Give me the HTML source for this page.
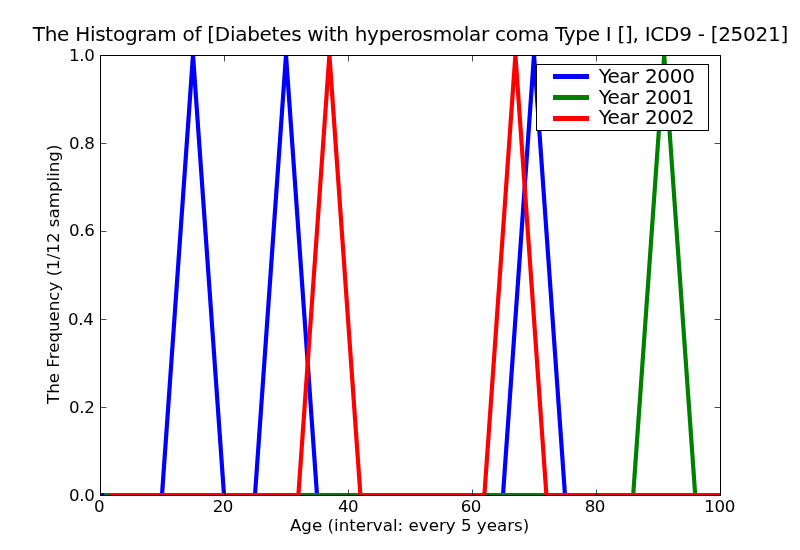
<!DOCTYPE html>
<html><head><meta charset="utf-8"><title>Histogram</title>
<style>html,body{margin:0;padding:0;background:#fff;overflow:hidden}svg{display:block;will-change:transform}text{font-family:'DejaVu Sans','Liberation Sans',sans-serif;fill:#000}</style>
</head><body>
<svg width="800" height="550" viewBox="0 0 800 550">
<rect x="0" y="0" width="800" height="550" fill="#fff"/>
<defs><clipPath id="ax"><rect x="100" y="55" width="621" height="441"/></clipPath></defs>
<g clip-path="url(#ax)">
<polyline points="100.00,495.00 131.00,495.00 162.00,495.00 193.00,55.00 224.00,495.00 255.00,495.00 286.00,55.00 317.00,495.00 348.00,495.00 379.00,495.00 410.00,495.00 441.00,495.00 472.00,495.00 503.00,495.00 534.00,55.00 565.00,495.00 596.00,495.00 627.00,495.00 658.00,495.00 689.00,495.00 720.00,495.00" fill="none" stroke="#0000ff" stroke-width="4.17" stroke-linejoin="miter" stroke-miterlimit="100" stroke-linecap="square"/>
<polyline points="106.20,495.00 137.20,495.00 168.20,495.00 199.20,495.00 230.20,495.00 261.20,495.00 292.20,495.00 323.20,495.00 354.20,495.00 385.20,495.00 416.20,495.00 447.20,495.00 478.20,495.00 509.20,495.00 540.20,495.00 571.20,495.00 602.20,495.00 633.20,495.00 664.20,55.00 695.20,495.00 726.20,495.00" fill="none" stroke="#008000" stroke-width="4.17" stroke-linejoin="miter" stroke-miterlimit="100" stroke-linecap="square"/>
<polyline points="112.40,495.00 143.40,495.00 174.40,495.00 205.40,495.00 236.40,495.00 267.40,495.00 298.40,495.00 329.40,55.00 360.40,495.00 391.40,495.00 422.40,495.00 453.40,495.00 484.40,495.00 515.40,55.00 546.40,495.00 577.40,495.00 608.40,495.00 639.40,495.00 670.40,495.00 701.40,495.00 732.40,495.00" fill="none" stroke="#ff0000" stroke-width="4.17" stroke-linejoin="miter" stroke-miterlimit="100" stroke-linecap="square"/>
</g>
<rect x="100.5" y="55.5" width="620" height="440" fill="none" stroke="#000" stroke-width="1"/>
<path d="M100.5 495.5V489.5M100.5 55.5V61.5M224.5 495.5V489.5M224.5 55.5V61.5M348.5 495.5V489.5M348.5 55.5V61.5M472.5 495.5V489.5M472.5 55.5V61.5M596.5 495.5V489.5M596.5 55.5V61.5M720.5 495.5V489.5M720.5 55.5V61.5M100.5 495.5H106.5M720.5 495.5H714.5M100.5 407.5H106.5M720.5 407.5H714.5M100.5 319.5H106.5M720.5 319.5H714.5M100.5 231.5H106.5M720.5 231.5H714.5M100.5 143.5H106.5M720.5 143.5H714.5M100.5 55.5H106.5M720.5 55.5H714.5" stroke="#000" stroke-width="0.7" fill="none"/>
<g font-size="16.67px">
<text x="94.00" y="511.5">0</text>
<text x="212.80" y="511.5" textLength="20.60" lengthAdjust="spacing">20</text>
<text x="337.95" y="511.5" textLength="20.60" lengthAdjust="spacing">40</text>
<text x="460.70" y="511.5" textLength="20.70" lengthAdjust="spacing">60</text>
<text x="584.80" y="511.5" textLength="20.60" lengthAdjust="spacing">80</text>
<text x="704.15" y="511.5" textLength="31.15" lengthAdjust="spacing">100</text>
</g>
<g font-size="16.67px" text-anchor="end">
<text x="94.80" y="501.3" textLength="25.75" lengthAdjust="spacing">0.0</text>
<text x="94.80" y="413.3" textLength="25.75" lengthAdjust="spacing">0.2</text>
<text x="93.75" y="325.3" textLength="25.75" lengthAdjust="spacing">0.4</text>
<text x="94.80" y="236.3" textLength="25.75" lengthAdjust="spacing">0.6</text>
<text x="94.80" y="149.3" textLength="25.75" lengthAdjust="spacing">0.8</text>
<text x="94.80" y="61.3" textLength="25.75" lengthAdjust="spacing">1.0</text>
</g>
<text x="410.5" y="41" font-size="20px" text-anchor="middle" textLength="755.4" lengthAdjust="spacing">The Histogram of [Diabetes with hyperosmolar coma Type I [], ICD9 - [25021]</text>
<text x="409.6" y="530.5" font-size="16.67px" text-anchor="middle" textLength="239.35" lengthAdjust="spacing">Age (interval: every 5 years)</text>
<text transform="translate(59.3 274.3) rotate(-90)" font-size="16.67px" text-anchor="middle">The Frequency (1/12 sampling)</text>
<rect x="536.5" y="64.5" width="172" height="66" fill="#fff" stroke="#000" stroke-width="1"/>
<rect x="553" y="74" width="36" height="5" fill="#0000ff" shape-rendering="crispEdges"/>
<text x="598.8" y="82.9" dx="0 -0.76 -0.76 -0.76 -0.38 0.02 -0.28 -0.28 -0.28" font-size="20px">Year 2000</text>
<rect x="553" y="95" width="36" height="5" fill="#008000" shape-rendering="crispEdges"/>
<text x="598.8" y="103.9" dx="0 -0.76 -0.76 -0.76 -0.38 0.02 -0.50 -0.50 -0.50" font-size="20px">Year 2001</text>
<rect x="553" y="116" width="36" height="5" fill="#ff0000" shape-rendering="crispEdges"/>
<text x="598.8" y="124.0" dx="0 -0.76 -0.76 -0.76 -0.38 0.02 -0.44 -0.44 -0.44" font-size="20px">Year 2002</text>
</svg>
</body></html>
